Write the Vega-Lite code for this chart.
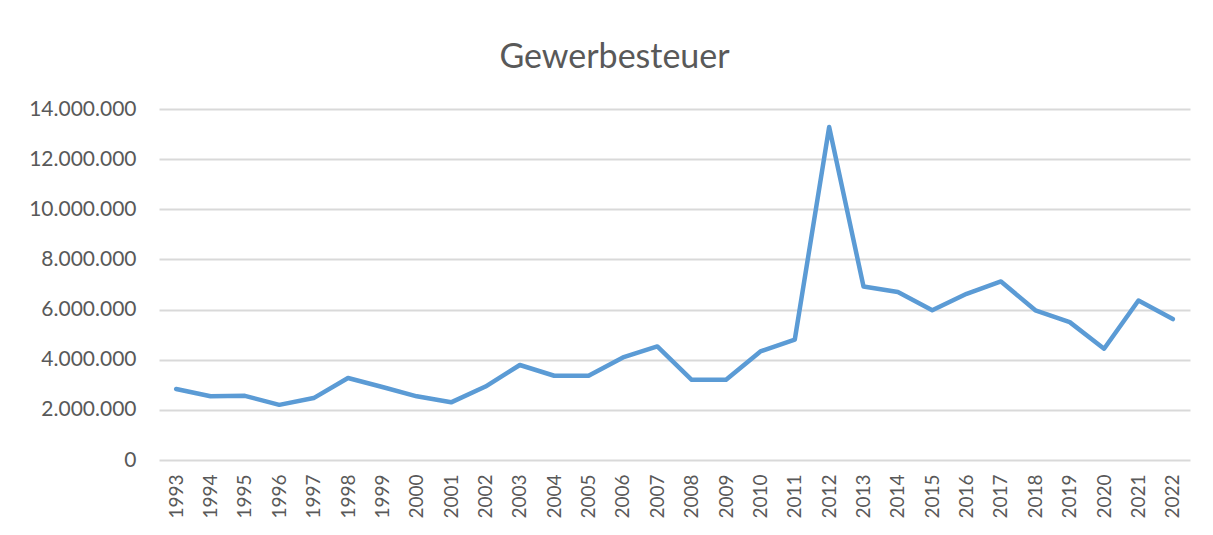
{
  "$schema": "https://vega.github.io/schema/vega-lite/v6.json",
  "autosize": "none",
  "width": 1031,
  "height": 351,
  "padding": {"left": 159, "top": 109, "right": 23, "bottom": 75},
  "background": "white",
  "title": {
    "text": "Gewerbesteuer",
    "anchor": "middle",
    "frame": "group",
    "dx": -60,
    "dy": 25,
    "offset": 21,
    "baseline": "alphabetic",
    "font": "Lato",
    "fontSize": 34,
    "fontWeight": "normal",
    "color": "#595959"
  },
  "data": {
    "values": [
      {"Jahr": "1993", "Wert": 2830000},
      {"Jahr": "1994", "Wert": 2540000},
      {"Jahr": "1995", "Wert": 2560000},
      {"Jahr": "1996", "Wert": 2200000},
      {"Jahr": "1997", "Wert": 2470000},
      {"Jahr": "1998", "Wert": 3270000},
      {"Jahr": "1999", "Wert": 2910000},
      {"Jahr": "2000", "Wert": 2540000},
      {"Jahr": "2001", "Wert": 2300000},
      {"Jahr": "2002", "Wert": 2930000},
      {"Jahr": "2003", "Wert": 3790000},
      {"Jahr": "2004", "Wert": 3360000},
      {"Jahr": "2005", "Wert": 3360000},
      {"Jahr": "2006", "Wert": 4090000},
      {"Jahr": "2007", "Wert": 4530000},
      {"Jahr": "2008", "Wert": 3200000},
      {"Jahr": "2009", "Wert": 3200000},
      {"Jahr": "2010", "Wert": 4330000},
      {"Jahr": "2011", "Wert": 4800000},
      {"Jahr": "2012", "Wert": 13280000},
      {"Jahr": "2013", "Wert": 6920000},
      {"Jahr": "2014", "Wert": 6700000},
      {"Jahr": "2015", "Wert": 5970000},
      {"Jahr": "2016", "Wert": 6630000},
      {"Jahr": "2017", "Wert": 7120000},
      {"Jahr": "2018", "Wert": 5970000},
      {"Jahr": "2019", "Wert": 5500000},
      {"Jahr": "2020", "Wert": 4440000},
      {"Jahr": "2021", "Wert": 6360000},
      {"Jahr": "2022", "Wert": 5620000}
    ]
  },
  "mark": {"type": "line", "color": "#5B9BD5", "strokeWidth": 4.5, "strokeJoin": "round", "strokeCap": "round"},
  "encoding": {
    "x": {
      "field": "Jahr",
      "type": "ordinal",
      "scale": {"type": "point", "padding": 0.5},
      "axis": {
        "title": null,
        "labelAngle": -90,
        "labelAlign": "right",
        "labelBaseline": "middle",
        "labelPadding": 14,
        "labelFont": "Lato",
        "labelFontSize": 19,
        "labelColor": "#595959",
        "ticks": false,
        "domain": false,
        "grid": false
      }
    },
    "y": {
      "field": "Wert",
      "type": "quantitative",
      "scale": {"domain": [0, 14000000], "nice": false},
      "axis": {
        "title": null,
        "values": [0, 2000000, 4000000, 6000000, 8000000, 10000000, 12000000, 14000000],
        "labelExpr": "replace(format(datum.value, ','), regexp(',', 'g'), '.')",
        "labelFont": "Lato",
        "labelFontSize": 21,
        "labelColor": "#595959",
        "labelPadding": 23,
        "ticks": false,
        "domain": false,
        "grid": true,
        "gridColor": "#d9d9d9",
        "gridWidth": 1.8
      }
    }
  },
  "config": {"view": {"stroke": null}}
}
